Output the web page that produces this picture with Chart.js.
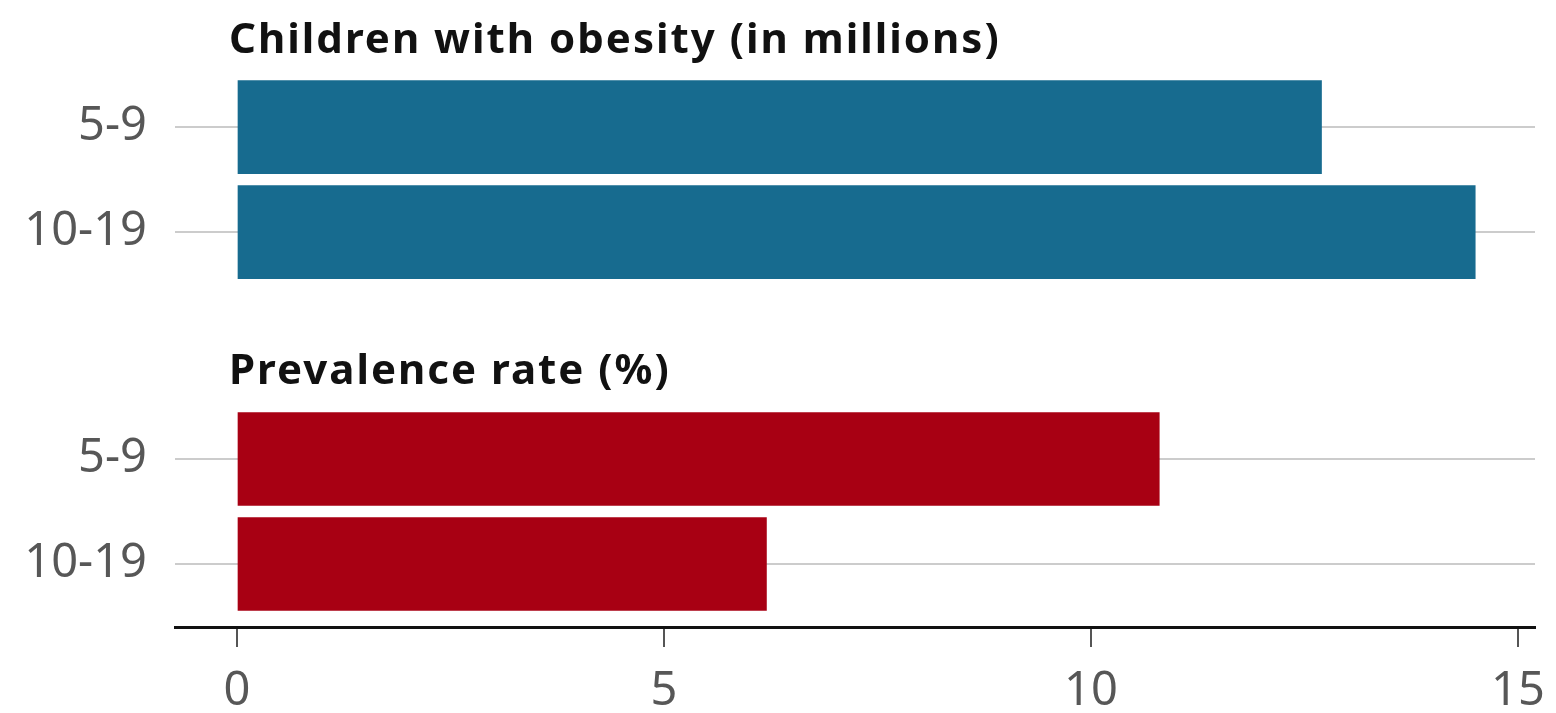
<!DOCTYPE html>
<html>
<head>
<meta charset="utf-8">
<script src="https://cdn.jsdelivr.net/npm/chart.js@4.4.1/dist/chart.umd.min.js"></script>
<style>
  html, body { margin: 0; padding: 0; background: #ffffff; }
  canvas { display: block; }
</style>
</head>
<body>
<canvas id="chart" width="1556" height="713"></canvas>
<script>
// Age bands shown in both panels
const ageGroups = ["5-9", "10-19"];
// Children with obesity, millions
const obesityMillions = [12.7, 14.5];
// Prevalence rate, percent
const prevalenceRate = [10.8, 6.2];
// Panel headings
const panelTitles = ["Children with obesity (in millions)", "Prevalence rate (%)"];
// Value axis ticks
const xTickValues = [0, 5, 10, 15];

// Layout of the two panels along the (reversed) row axis, in row units
const PANEL_START = [0, 3.16];
const TITLE_OFFSET = -0.71;
const FONT = '"Noto Sans", "Open Sans", sans-serif';
const LABEL_COLOR = '#575757';

const rowValue = (panel, i) => PANEL_START[panel] + i;

const rowTicks = [];
[0, 1].forEach(p => ageGroups.forEach((g, i) => rowTicks.push({ value: rowValue(p, i), label: g })));

const panelTitlePlugin = {
  id: 'panelTitles',
  afterDraw(chart) {
    const { ctx, scales } = chart;
    const x = scales.x.getPixelForValue(0) - 8;
    ctx.save();
    ctx.font = 'bold 42px ' + FONT;
    if ('letterSpacing' in ctx) ctx.letterSpacing = '2px';
    ctx.fillStyle = '#111111';
    ctx.textAlign = 'left';
    ctx.textBaseline = 'alphabetic';
    panelTitles.forEach((t, p) => {
      ctx.fillText(t, x, scales.y.getPixelForValue(PANEL_START[p] + TITLE_OFFSET));
    });
    ctx.restore();
  }
};

new Chart(document.getElementById('chart'), {
  type: 'bar',
  data: {
    datasets: [
      {
        label: panelTitles[0],
        data: obesityMillions.map((v, i) => ({ x: v, y: rowValue(0, i) })),
        backgroundColor: '#176b8f'
      },
      {
        label: panelTitles[1],
        data: prevalenceRate.map((v, i) => ({ x: v, y: rowValue(1, i) })),
        backgroundColor: '#a80013'
      }
    ]
  },
  options: {
    indexAxis: 'y',
    responsive: false,
    animation: false,
    devicePixelRatio: 1,
    grouped: false,
    barThickness: 93,
    layout: { padding: { top: 0, left: 0, right: 21, bottom: 0 } },
    plugins: {
      legend: { display: false },
      tooltip: { enabled: false },
      title: { display: false }
    },
    scales: {
      x: {
        type: 'linear',
        position: 'bottom',
        min: -0.726,
        max: 15.2,
        afterBuildTicks: s => { s.ticks = xTickValues.map(v => ({ value: v })); },
        afterFit: s => { s.height = 86; s.paddingLeft = 0; s.paddingRight = 0; },
        border: { display: true, color: '#111111', width: 3 },
        grid: {
          drawOnChartArea: false,
          drawTicks: true,
          tickLength: 20,
          color: '#555555',
          lineWidth: 2
        },
        ticks: {
          autoSkip: false,
          maxRotation: 0,
          padding: 16,
          color: LABEL_COLOR,
          font: { family: FONT, size: 47 },
          callback: v => String(v)
        }
      },
      y: {
        type: 'linear',
        reverse: true,
        offset: false,
        min: -1.21,
        max: 4.76,
        afterBuildTicks: s => { s.ticks = rowTicks.map(t => ({ value: t.value })); },
        afterFit: s => { s.width = 175; s.paddingTop = 0; s.paddingBottom = 0; },
        border: { display: false },
        grid: {
          offset: false,
          drawTicks: false,
          color: '#cccccc',
          lineWidth: 2
        },
        ticks: {
          autoSkip: false,
          padding: 28,
          color: LABEL_COLOR,
          font: { family: FONT, size: 47 },
          callback: (v, i) => rowTicks[i].label
        }
      }
    }
  },
  plugins: [panelTitlePlugin]
});
</script>
</body>
</html>
